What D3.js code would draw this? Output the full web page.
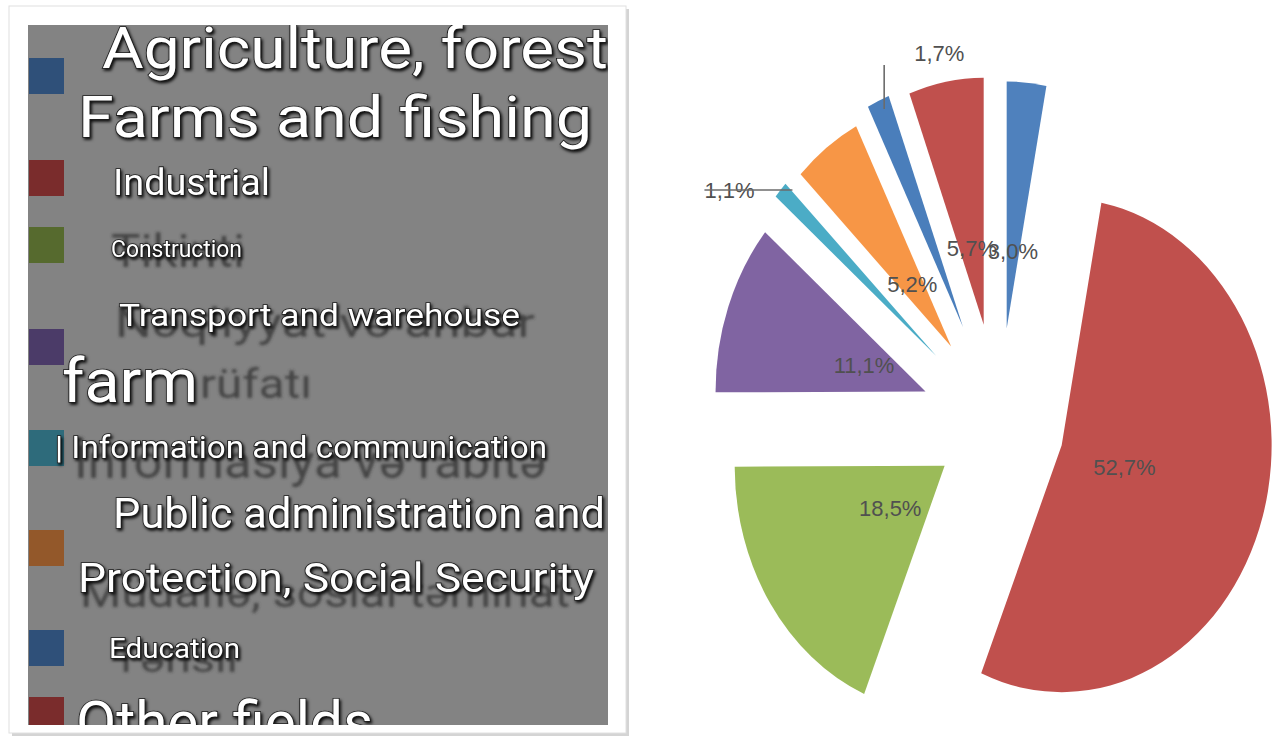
<!DOCTYPE html>
<html>
<head>
<meta charset="utf-8">
<script src="https://cdn.jsdelivr.net/npm/d3@7"></script>
<style>
  html, body { margin: 0; padding: 0; background: #ffffff; }
  svg { display: block; }
</style>
</head>
<body>
<svg id="chart" width="1274" height="740"></svg>
<script>
// ---------- data ----------
const categories = [
  "Agriculture, forestry and fishing", "Industrial", "Construction",
  "Transport and warehouse", "Information and communication",
  "Public administration and protection, social security", "Education", "Other fields"
];
const values = [3.0, 52.7, 18.5, 11.1, 1.1, 5.2, 1.7, 5.7];
const valueLabels = ["3,0%", "52,7%", "18,5%", "11,1%", "1,1%", "5,2%", "1,7%", "5,7%"];

// legend texts as shown (overlaid translation)
const legendTexts = [
  "Agriculture, forest", "Farms and fishing", "Industrial", "Construction",
  "Transport and warehouse", "farm", "| Information and communication",
  "Public administration and", "Protection, Social Security", "Education", "Other fields"
];
const ghostTexts = ["Tikinti", "Nəqliyyat və anbar", "rüfatı", "İnformasiya və rabitə", "Müdafiə, sosial təminat", "Təhsil"];

// ---------- styles / layout ----------
const pieColors = ["#4f81bd", "#c0504d", "#9bbb59", "#8064a2", "#4bacc6", "#f79646", "#4a7ebb", "#c0504d"];
const swatchColors = ["#2f5079", "#7a2c2c", "#566a2e", "#4b3b68", "#2e6b7b", "#93582a", "#2f5079", "#7a2c2c"];
const swatchY = [58, 160, 227, 329, 430, 530, 630, 697];
const explode = [95, 77, 77, 92, 100, 95, 105, 100];

// legend text layout: [x, baseline, fontSize, width]
const legendLayout = [
  [102, 68, 58, 506], [78, 137, 58, 514], [113, 195, 37, 157], [111, 257, 23, 131],
  [119, 326, 31, 401], [62, 402, 62, 136], [55, 458, 31, 492], [113, 528, 42, 492],
  [78, 592, 41, 516], [109, 658, 27, 131], [76, 742, 58, 297]
];
const ghostLayout = [
  [111, 267, 46, 134], [115, 337, 40, 420], [200, 398, 40, 112], [74, 478, 46, 472],
  [80, 607, 40, 490], [112, 672, 36, 126]
];

const svg = d3.select("#chart");
const defs = svg.append("defs");
const sh = defs.append("filter").attr("id", "halo").attr("x", "-10%").attr("y", "-30%").attr("width", "120%").attr("height", "160%");
sh.append("feDropShadow").attr("dx", 1.5).attr("dy", 2).attr("stdDeviation", 1.8).attr("flood-color", "#000").attr("flood-opacity", 0.9);
const bl = defs.append("filter").attr("id", "blur");
bl.append("feGaussianBlur").attr("stdDeviation", 1.8);
defs.append("clipPath").attr("id", "grayClip").append("rect")
  .attr("x", 28).attr("y", 25).attr("width", 580).attr("height", 700);

// ---------- legend panel ----------
svg.append("rect").attr("x", 12).attr("y", 9).attr("width", 617).attr("height", 727)
  .attr("fill", "#d4d4d4");
svg.append("rect").attr("x", 9).attr("y", 6).attr("width", 617).attr("height", 727)
  .attr("fill", "#ffffff").attr("stroke", "#e0e0e0").attr("stroke-width", 1);

const panel = svg.append("g").attr("clip-path", "url(#grayClip)");
panel.append("rect").attr("x", 28).attr("y", 25).attr("width", 580).attr("height", 700).attr("fill", "#838383");

panel.selectAll("rect.sw").data(swatchColors).join("rect").attr("class", "sw")
  .attr("x", 29).attr("y", (d, i) => swatchY[i]).attr("width", 35).attr("height", 36)
  .attr("fill", d => d);

panel.selectAll("text.ghost").data(ghostTexts).join("text").attr("class", "ghost")
  .attr("x", (d, i) => ghostLayout[i][0]).attr("y", (d, i) => ghostLayout[i][1])
  .attr("font-size", (d, i) => ghostLayout[i][2])
  .attr("textLength", (d, i) => ghostLayout[i][3]).attr("lengthAdjust", "spacingAndGlyphs")
  .attr("font-family", "Roboto, 'Noto Sans', sans-serif")
  .attr("fill", "#2e2e2e").attr("opacity", 0.75).attr("filter", "url(#blur)")
  .text(d => d);

panel.selectAll("text.lg").data(legendTexts).join("text").attr("class", "lg")
  .attr("x", (d, i) => legendLayout[i][0]).attr("y", (d, i) => legendLayout[i][1])
  .attr("font-size", (d, i) => legendLayout[i][2])
  .attr("textLength", (d, i) => legendLayout[i][3]).attr("lengthAdjust", "spacingAndGlyphs")
  .attr("font-family", "Roboto, 'Noto Sans', sans-serif")
  .attr("fill", "#ffffff").attr("stroke", "#1a1a1a").attr("stroke-width", 1.6)
  .attr("paint-order", "stroke").attr("filter", "url(#halo)")
  .text(d => d);

// ---------- pie ----------
const cx = 999, cy = 423, R = 247, sx = 0.85, labelR = 77;
const pie = d3.pie().sort(null).value(d => d);
const arcs = pie(values);
const arc = d3.arc().innerRadius(0).outerRadius(R);
function offsetOf(a, i) {
  const m = (a.startAngle + a.endAngle) / 2;
  return [cx + Math.sin(m) * explode[i] * sx, cy - Math.cos(m) * explode[i]];
}
const pieG = svg.append("g");
arcs.forEach((a, i) => {
  const [ox, oy] = offsetOf(a, i);
  pieG.append("path")
    .attr("transform", `translate(${ox},${oy}) scale(${sx},1)`)
    .attr("d", arc(a))
    .attr("fill", pieColors[i]);
});

// ---------- data labels ----------
const outside = { 4: "left", 6: "up" };
const labG = svg.append("g").attr("font-family", "'Liberation Sans Narrow', 'Liberation Sans', sans-serif")
  .attr("font-size", 22).attr("fill", "#505050");
arcs.forEach((a, i) => {
  const [ox, oy] = offsetOf(a, i);
  const m = (a.startAngle + a.endAngle) / 2;
  if (outside[i] === undefined) {
    const lx = ox + Math.sin(m) * labelR * sx, ly = oy - Math.cos(m) * labelR;
    labG.append("text").attr("x", lx).attr("y", ly).attr("text-anchor", "middle")
      .attr("dominant-baseline", "central").text(valueLabels[i]);
  } else {
    const px = ox + Math.sin(m) * R * sx, py = oy - Math.cos(m) * R;
    if (outside[i] === "up") {
      svg.append("line").attr("x1", px + 6).attr("y1", py + 8).attr("x2", px + 6).attr("y2", py - 36)
        .attr("stroke", "#6b6b6b").attr("stroke-width", 1.6);
      labG.append("text").attr("x", px + 36).attr("y", py - 40).text(valueLabels[i]);
    } else {
      labG.append("text").attr("x", px - 76).attr("y", py + 8).text(valueLabels[i]);
      svg.append("line").attr("x1", px + 12).attr("y1", py).attr("x2", px - 76).attr("y2", py)
        .attr("stroke", "#6b6b6b").attr("stroke-width", 1.6);
    }
  }
});
</script>
</body>
</html>
